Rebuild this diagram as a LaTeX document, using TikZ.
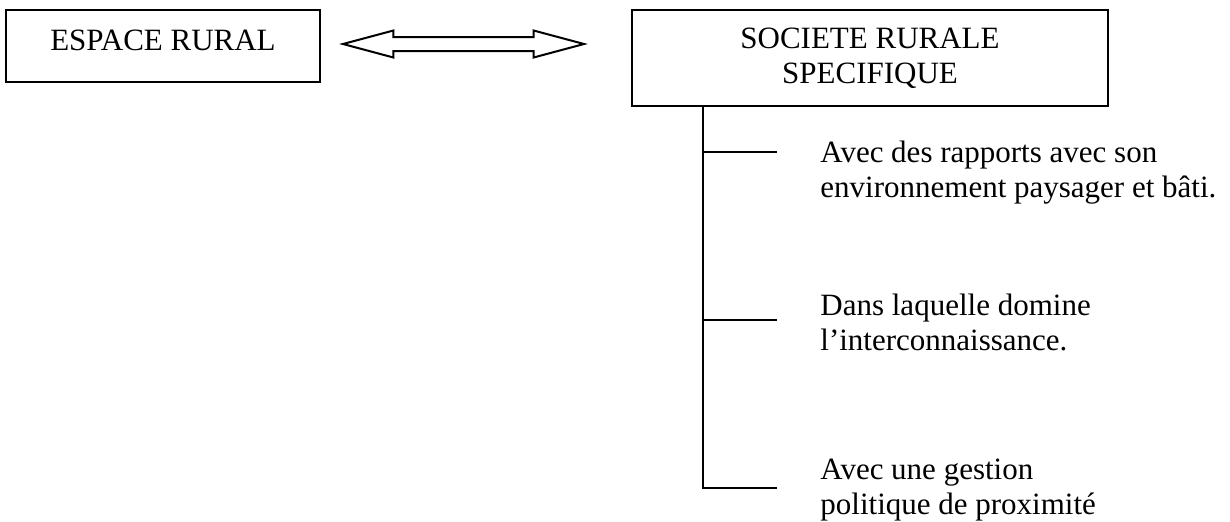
\documentclass[tikz,border=0pt]{standalone}
\usepackage{fontspec}
\setmainfont{Liberation Serif}
\usetikzlibrary{shapes.arrows,calc}

\begin{document}
\begin{tikzpicture}[x=0.5pt,y=-0.5pt,
  every node/.style={font=\fontsize{15.5}{17.5}\selectfont},
  cadre/.style={draw,line width=1pt,align=center,inner sep=0pt},
  lien/.style={draw,line width=1pt,double arrow,double arrow tip angle=30,double arrow head extend=3.25pt,
    inner xsep=0pt,inner ysep=3pt,minimum height=120.5pt},
  trait/.style={line width=1pt},
  txt/.style={anchor=north west,align=left,inner sep=0pt}]
  \useasboundingbox (0,0) rectangle (1230,521);
  \node[cadre,minimum width=157pt,minimum height=36pt,text depth=5.5pt] (espace) at (163,46) {ESPACE RURAL};
  \node[cadre,minimum width=238pt,minimum height=48pt] (societe) at (870,58) {SOCIETE RURALE\\SPECIFIQUE};
  \node[lien] (lien) at (463.5,44) {};
  % tronc et branches
  \coordinate (tronc) at ($(societe.south west)+(72,0)$);
  \coordinate (b1) at (704,152); \coordinate (f1) at (777,152);
  \coordinate (b2) at (704,320); \coordinate (f2) at (777,320);
  \coordinate (f3) at (777,488);
  \draw[trait] (tronc) |- (f3);
  \draw[trait] (b1) -- (f1); \draw[trait] (b2) -- (f2);
  \node[txt] (t1) at (820,141) {Avec des rapports avec son\\environnement paysager et bâti.};
  \node[txt] (t2) at (820,294) {Dans laquelle domine\\l’interconnaissance.};
  \node[txt] (t3) at (820,459) {Avec une gestion\\politique de proximité};
\end{tikzpicture}
\end{document}
